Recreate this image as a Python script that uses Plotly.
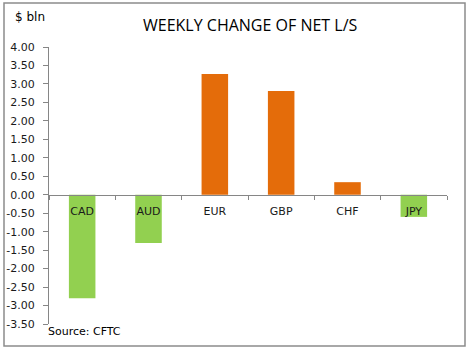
import plotly.graph_objects as go

categories = ["CAD", "AUD", "EUR", "GBP", "CHF", "JPY"]
values = [-2.80, -1.31, 3.27, 2.81, 0.34, -0.60]
bar_colors = ["#92D050", "#92D050", "#E46C0A", "#E46C0A", "#E46C0A", "#92D050"]
ytick_vals = [4.0, 3.5, 3.0, 2.5, 2.0, 1.5, 1.0, 0.5, 0.0, -0.5, -1.0, -1.5, -2.0, -2.5, -3.0, -3.5]
ytick_text = ["4.00", "3.50", "3.00", "2.50", "2.00", "1.50", "1.00", "0.50", "0.00",
              "-0.50", "-1.00", "-1.50", "-2.00", "-2.50", "-3.00", "-3.50"]
title_text = "WEEKLY CHANGE OF NET L/S"
unit_text = "$ bln"
source_text = "Source: CFTC"

W, H = 468, 349
L, R, T, B = 49, 21, 47, 25
ymin, ymax = -3.5, 4.0

fig = go.Figure()
fig.add_trace(go.Bar(x=categories, y=values, marker=dict(color=bar_colors, line=dict(width=0)),
                     showlegend=False, hoverinfo="x+y"))

zero_pos = (0 - ymin) / (ymax - ymin)

tick_font = dict(family="DejaVu Sans", size=11, color="#1a1a1a")
fig.update_layout(
    width=W, height=H,
    margin=dict(l=L, r=R, t=T, b=B, pad=0, autoexpand=False),
    paper_bgcolor="white", plot_bgcolor="white",
    bargap=0.6,
    font=tick_font,
    xaxis=dict(type="category", anchor="free", position=zero_pos, automargin=False,
               showline=True, linecolor="#868686", linewidth=1,
               ticks="outside", ticklen=4, tickcolor="#868686", tickson="boundaries",
               showgrid=False, zeroline=False, tickfont=tick_font, ticklabelstandoff=6),
    yaxis=dict(range=[ymin, ymax], tickvals=ytick_vals, ticktext=ytick_text, automargin=False,
               showline=True, linecolor="#868686", linewidth=1,
               ticks="outside", ticklen=5, tickcolor="#868686",
               showgrid=False, zeroline=False, tickfont=tick_font, ticklabelstandoff=6),
    shapes=[dict(type="rect", xref="paper", yref="paper",
                 x0=(4 - L) / (W - L - R), x1=(465 - L) / (W - L - R),
                 y0=(H - B - 346) / (H - T - B), y1=(H - B - 3) / (H - T - B),
                 line=dict(color="#8c8c8c", width=1.5), layer="below")],
    annotations=[
        dict(text=title_text, xref="paper", yref="paper",
             x=(250 - L) / (W - L - R), y=(H - B - 25) / (H - T - B),
             xanchor="center", yanchor="middle", showarrow=False,
             font=dict(family="Open Sans", size=16, color="#000000")),
        dict(text=unit_text, xref="paper", yref="paper",
             x=(13 - L) / (W - L - R), y=(H - B - 17) / (H - T - B),
             xanchor="left", yanchor="middle", showarrow=False,
             font=dict(family="DejaVu Sans", size=12, color="#000000")),
        dict(text=source_text, xref="paper", yref="paper",
             x=(46 - L) / (W - L - R), y=(H - B - 331) / (H - T - B),
             xanchor="left", yanchor="middle", showarrow=False,
             font=dict(family="DejaVu Sans", size=11, color="#000000")),
    ],
)

fig.write_html("out.html")
